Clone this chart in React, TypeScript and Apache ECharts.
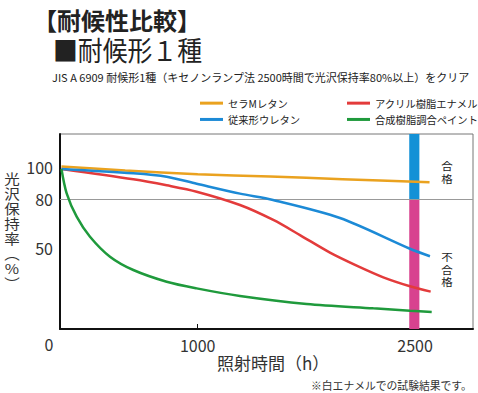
import React, { useEffect, useRef } from "react";
import * as echarts from "echarts";

const seriesNames = ["セラMレタン", "アクリル樹脂エナメル", "従来形ウレタン", "合成樹脂調合ペイント"];
const seriesColors = ["#eaa21f", "#e33b3b", "#1c8ad6", "#1f9a3c"];

const ceraHours = [60, 500, 1000, 1500, 2000, 2600];
const ceraValues = [100, 97.5, 95.2, 93.8, 92.2, 90.3];

const acrylHours = [60, 556, 786, 993, 1292, 1522, 1706, 1913, 2097, 2281, 2465, 2608];
const acrylValues = [98.5, 92.1, 88.4, 84.5, 76.3, 67.1, 57.8, 47, 39, 31.8, 26.3, 23];

const urethaneHours = [60, 556, 786, 993, 1292, 1520, 1982, 2465, 2603];
const urethaneValues = [98.5, 95.8, 93.7, 89.4, 83.3, 79.4, 68.3, 49.4, 44.8];

const paintHours = [60, 96, 165, 257, 395, 556, 786, 993, 1292, 1752, 2212, 2465, 2615];
const paintValues = [98.5, 83.5, 69.1, 56.8, 44.5, 36.3, 29.1, 25, 20.3, 15.4, 12.7, 11.3, 10.5];

const yTicks = [50, 80, 100];
const xTicks = [1000, 2500];
const passLine = 80;
const barFrom = 2460;
const barTo = 2530;

const FONT = "'Noto Sans CJK JP', 'Noto Sans', sans-serif";

function pairs(xs: number[], ys: number[]) {
  return xs.map((x, i) => [x, ys[i]]);
}

export default function App() {
  const ref = useRef<HTMLDivElement>(null);
  useEffect(() => {
    if (!ref.current) return;
    const chart = echarts.init(ref.current, null, { renderer: "svg" });
    const allHours = [ceraHours, acrylHours, urethaneHours, paintHours];
    const allValues = [ceraValues, acrylValues, urethaneValues, paintValues];
    const series: any[] = seriesNames.map((name, i) => ({
      name,
      type: "line",
      data: pairs(allHours[i], allValues[i]),
      smooth: 0.3,
      showSymbol: false,
      lineStyle: { color: seriesColors[i], width: 2.5 },
      itemStyle: { color: seriesColors[i] },
      z: 5,
    }));
    series.push({
      name: "_bands",
      type: "line",
      data: [],
      silent: true,
      markArea: {
        silent: true,
        label: { show: false },
        data: [
          [
            { xAxis: barFrom, yAxis: passLine, itemStyle: { color: "#1391d6" } },
            { xAxis: barTo, yAxis: 120 },
          ],
          [
            { xAxis: barFrom, yAxis: 0, itemStyle: { color: "#d8428f" } },
            { xAxis: barTo, yAxis: passLine },
          ],
        ],
      },
      markLine: {
        silent: true,
        symbol: "none",
        label: { show: false },
        lineStyle: { color: "#999", width: 1, type: "solid" },
        data: [{ yAxis: passLine }],
      },
      z: 2,
    });

    const legendCommon = {
      orient: "vertical",
      top: 93,
      itemGap: 6,
      itemWidth: 23,
      itemHeight: 3,
      icon: "rect",
      textStyle: { fontSize: 10.3, color: "#222", fontFamily: FONT },
    };

    chart.setOption({
      animation: false,
      textStyle: { fontFamily: FONT },
      grid: {
        left: 60,
        right: 5,
        top: 134,
        bottom: 64,
        show: true,
        borderColor: "#777",
        borderWidth: 1,
        outerBoundsMode: "none",
      },
      legend: [
        { ...legendCommon, data: [seriesNames[0], seriesNames[2]], left: 195 },
        { ...legendCommon, data: [seriesNames[1], seriesNames[3]], left: 342 },
      ],
      xAxis: {
        type: "value",
        min: 50,
        max: 2900,
        axisLine: { lineStyle: { color: "#111", width: 2 } },
        axisTick: { show: true, inside: true, length: 5, customValues: [1000], lineStyle: { color: "#111", width: 1 } },
        axisLabel: {
          customValues: xTicks,
          fontSize: 16,
          color: "#333",
          margin: 8,
          fontFamily: FONT,
          formatter: (v: number) => String(v),
        },
        splitLine: { show: false },
      },
      yAxis: {
        type: "value",
        min: 0,
        max: 120,
        axisLine: { show: true, lineStyle: { color: "#111", width: 2 } },
        axisTick: { show: false },
        axisLabel: { customValues: yTicks, fontSize: 16, color: "#333", margin: 7, fontFamily: FONT },
        splitLine: { show: false },
      },
      graphic: [
        { type: "text", left: 33, top: 7, style: { text: "【耐候性比較】", fontSize: 24, fontWeight: "bold", fill: "#222", fontFamily: FONT } },
        { type: "text", x: 53, y: 36, scaleX: 0.92, style: { text: "■耐候形１種", fontSize: 27, fill: "#222", fontFamily: FONT } },
        { type: "text", x: 52, y: 71, style: { text: "JIS A 6909 耐候形1種（キセノンランプ法 2500時間で光沢保持率80%以上）をクリア", fontSize: 11, fill: "#222", fontFamily: FONT } },
        { type: "text", x: 12, y: 170, scaleX: 1.15, style: { text: "光\n沢\n保\n持\n率\n︵\n%\n︶", fontSize: 13.5, lineHeight: 15, fill: "#333", align: "center", fontFamily: FONT } },
        { type: "text", x: 49, y: 336, style: { text: "0", fontSize: 16, fill: "#333", align: "center", fontFamily: FONT } },
        { type: "text", x: 217, y: 354, style: { text: "照射時間（h）", fontSize: 17, fill: "#333", fontFamily: FONT } },
        { type: "text", x: 311, y: 380, style: { text: "※白エナメルでの試験結果です。", fontSize: 10.8, fill: "#333", fontFamily: FONT } },
        { type: "text", x: 447, y: 159, scaleX: 1.1, style: { text: "合\n格", fontSize: 10.5, lineHeight: 12.5, fill: "#222", align: "center", fontFamily: FONT } },
        { type: "text", x: 447, y: 250, scaleX: 1.1, style: { text: "不\n合\n格", fontSize: 10.5, lineHeight: 12.5, fill: "#222", align: "center", fontFamily: FONT } },
      ],
      series,
    });
    return () => chart.dispose();
  }, []);
  return <div ref={ref} style={{ width: 478, height: 393, position: "absolute", left: 0, top: 0, background: "#fff" }} />;
}
